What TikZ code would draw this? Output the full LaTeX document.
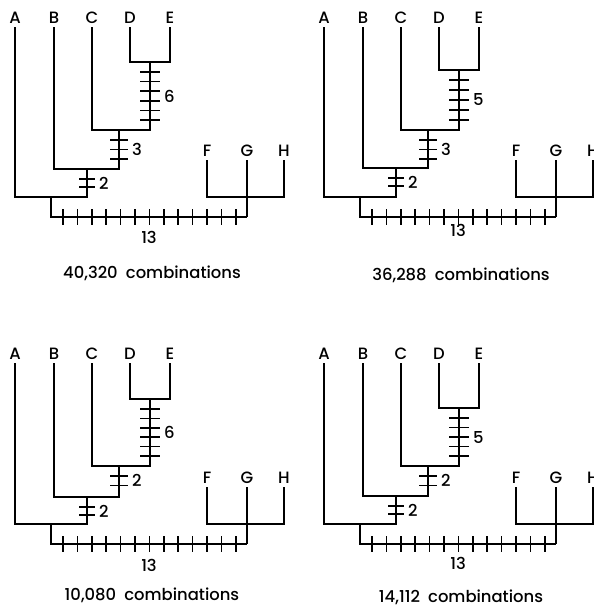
\documentclass[tikz,border=0pt]{standalone}
\usepackage{fontspec}
\setmainfont{Poppins Medium}
\usetikzlibrary{calc}

\begin{document}
\begin{tikzpicture}[x=0.03cm, y=-0.03cm, line width=1.5pt,
    leaf/.style={anchor=south, inner sep=2.5pt, font=\fontsize{14}{16}\selectfont},
    count/.style={anchor=west, inner sep=1pt, font=\fontsize{14}{16}\selectfont},
    caption/.style={font=\fontsize{14}{16}\selectfont}]

    \useasboundingbox (0,0) rectangle (594,609);

    % ---------------------------------------------------
    % One tree per panel:
    % panel / x shift / y shift / DE join / DE ticks / B join / C ticks /
    % drop of the lower part / y of 13 / y of caption / count
    % ---------------------------------------------------
    \foreach \p/\xs/\ys/\de/\nde/\yb/\nc/\dn/\tl/\cy/\txt in {
        1/0/0/62/6/169/3/0/237/273/{40,320},
        2/309/0/70/5/168/3/0/230/275/{36,288},
        3/0/336/63/6/161/2/9/229/259/{10,080},
        4/309/336/72/5/160/2/9/227/261/{14,112}} {
    \begin{scope}[shift={(\xs,\ys)}]

        % Leaves
        \node[leaf] (A\p) at (15,27) {A};
        \node[leaf] (B\p) at (54,27) {B};
        \node[leaf] (C\p) at (92,27) {C};
        \node[leaf] (D\p) at (130,27) {D};
        \node[leaf] (E\p) at (170,27) {E};
        \node[leaf] (F\p) at (207,{160-\dn}) {F};
        \node[leaf] (G\p) at (247,{160-\dn}) {G};
        \node[leaf] (H\p) at (284,{160-\dn}) {H};

        % Joins
        \coordinate (de\p) at (150,\de);
        \coordinate (cj\p) at (119,130);
        \coordinate (bj\p) at (87,\yb);
        \coordinate (aj\p) at (51,{197-\dn});
        \coordinate (fgh\p) at (247,{197-\dn});
        \coordinate (root\p) at (247,{217-\dn});

        \draw (D\p.south) |- (de\p) -| (E\p.south);
        \draw (C\p.south) |- (cj\p) -| (de\p);
        \draw (B\p.south) |- (bj\p) -| (cj\p);
        \draw (A\p.south) |- (aj\p) -| (bj\p);
        \draw (F\p.south) |- (fgh\p) -| (H\p.south);
        \draw (G\p.south) -- (root\p);
        \draw (aj\p) |- (root\p);

        % Ticks on the DE stem
        \pgfmathsetmacro{\step}{(110-\de)/(\nde-1)}
        \foreach \k in {1,...,\nde} {
            \draw (140,{\de+10+(\k-1)*\step}) -- ++(20,0);
        }
        \node[count] (nde\p) at (162,{(\de+130)/2}) {\nde};

        % Ticks on the C stem
        \foreach \k in {1,...,\nc} {
            \draw (110,{140+(\k-1)*9.5}) -- ++(18,0);
        }
        \node[count] (nc\p) at (130,{140+(\nc-1)*4.75}) {\nc};

        % Ticks on the B stem
        \draw (79,{\yb+10}) -- ++(16,0);
        \draw (79,{\yb+18}) -- ++(16,0);
        \node[count] (nb\p) at (97,{\yb+14}) {2};

        % Ticks on the bottom bar
        \foreach \k in {0,...,12} {
            \draw ({63+\k*14.4},{209-\dn}) -- ++(0,16);
        }
        \node[caption] (nr\p) at (149,\tl) {13};

        % Caption
        \node[caption] (cap\p) at (152,\cy) {\txt\enspace combinations};

    \end{scope}
    }

\end{tikzpicture}
\end{document}
